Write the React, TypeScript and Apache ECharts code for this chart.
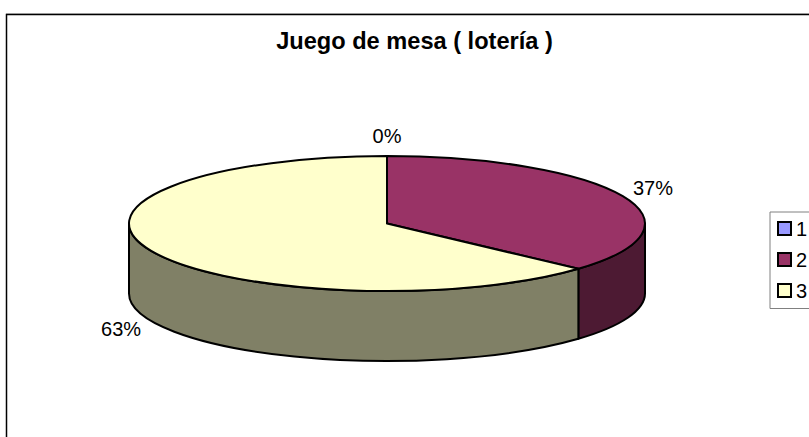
import React, { useEffect, useRef } from "react";
import * as echarts from "echarts";

const titleText = "Juego de mesa ( lotería )";
const sliceNames = ["1", "2", "3"];
const sliceValues = [0, 36.7, 63.3];
const topColors = ["#9999FF", "#993366", "#FFFFCC"];
const sideColors = ["#4D4D80", "#4D1A33", "#808066"];

const FONT = "'Liberation Sans', Arial, sans-serif";
const CX = 387, CY = 223.5, RX = 258, RY = 67.5, DEPTH = 70;
const LABEL_RX = 291, LABEL_RY = 88;

const total = sliceValues.reduce((a, b) => a + b, 0);
const pt = (t: number, dy = 0) => [CX + RX * Math.sin(t), CY - RY * Math.cos(t) + dy];

function renderSlice(index: number) {
  return () => {
    const before = sliceValues.slice(0, index).reduce((a, b) => a + b, 0);
    const a0 = (before / total) * 2 * Math.PI;
    const a1 = ((before + sliceValues[index]) / total) * 2 * Math.PI;
    const mid = (a0 + a1) / 2;
    const children: any[] = [];
    const stroke = { stroke: "#000", lineWidth: 2, lineJoin: "round" };
    const sideStart = Math.max(a0, Math.PI / 2);
    const sideEnd = Math.min(a1, (3 * Math.PI) / 2);
    if (sideEnd > sideStart) {
      const [x0, y0] = pt(sideStart);
      const [x1, y1] = pt(sideEnd);
      const [x2, y2] = pt(sideEnd, DEPTH);
      const [x3, y3] = pt(sideStart, DEPTH);
      children.push({
        type: "path",
        shape: {
          pathData: `M${x0} ${y0}A${RX} ${RY} 0 0 1 ${x1} ${y1}L${x2} ${y2}A${RX} ${RY} 0 0 0 ${x3} ${y3}Z`,
        },
        style: { fill: sideColors[index], ...stroke },
      });
    }
    if (a1 > a0) {
      const [x0, y0] = pt(a0);
      const [x1, y1] = pt(a1);
      const large = a1 - a0 > Math.PI ? 1 : 0;
      children.push({
        type: "path",
        shape: { pathData: `M${CX} ${CY}L${x0} ${y0}A${RX} ${RY} 0 ${large} 1 ${x1} ${y1}Z` },
        style: { fill: topColors[index], ...stroke },
      });
    }
    const lower = Math.cos(mid) < 0;
    children.push({
      type: "text",
      z2: 10,
      style: {
        text: `${Math.round((sliceValues[index] / total) * 100)}%`,
        x: CX + LABEL_RX * Math.sin(mid),
        y: CY - LABEL_RY * Math.cos(mid) + (lower ? DEPTH : 0),
        align: "center",
        verticalAlign: "middle",
        font: `20px ${FONT}`,
        fill: "#000",
      },
    });
    return { type: "group", children };
  };
}

export default function App() {
  const ref = useRef<HTMLDivElement>(null);
  useEffect(() => {
    const chart = echarts.init(ref.current!, null, { renderer: "svg" });
    chart.setOption({
      animation: false,
      backgroundColor: "#fff",
      title: {
        text: titleText,
        left: 409.5,
        top: 24,
        textAlign: "center",
        textStyle: { fontFamily: FONT, fontSize: 23.6, fontWeight: "bold", color: "#000" },
      },
      legend: {
        orient: "vertical",
        left: 770,
        top: 212,
        padding: [6.5, 30, 8, 7],
        itemGap: 11,
        itemWidth: 13,
        itemHeight: 13,
        icon: "rect",
        borderColor: "#808080",
        borderWidth: 1,
        backgroundColor: "#fff",
        selectedMode: false,
        itemStyle: { borderColor: "#000", borderWidth: 2 },
        textStyle: { fontFamily: FONT, fontSize: 20, color: "#000" },
        data: sliceNames,
      },
      graphic: [
        { type: "rect", shape: { x: 6.5, y: 14.5, width: 900, height: 600 }, style: { fill: "none", stroke: "#000", lineWidth: 1.5 }, z: -1 },
        { type: "line", shape: { x1: 6, y1: 13.5, x2: 809, y2: 13.5 }, style: { stroke: "#999", lineWidth: 1 }, z: -1 },
      ],
      series: sliceNames.map((name, i) => ({
        type: "custom",
        name,
        coordinateSystem: "none",
        silent: true,
        itemStyle: { color: topColors[i] },
        data: [[sliceValues[i]]],
        renderItem: renderSlice(i),
      })),
    });
    return () => chart.dispose();
  }, []);
  return <div ref={ref} style={{ position: "absolute", left: 0, top: 0, width: 809, height: 437 }} />;
}
